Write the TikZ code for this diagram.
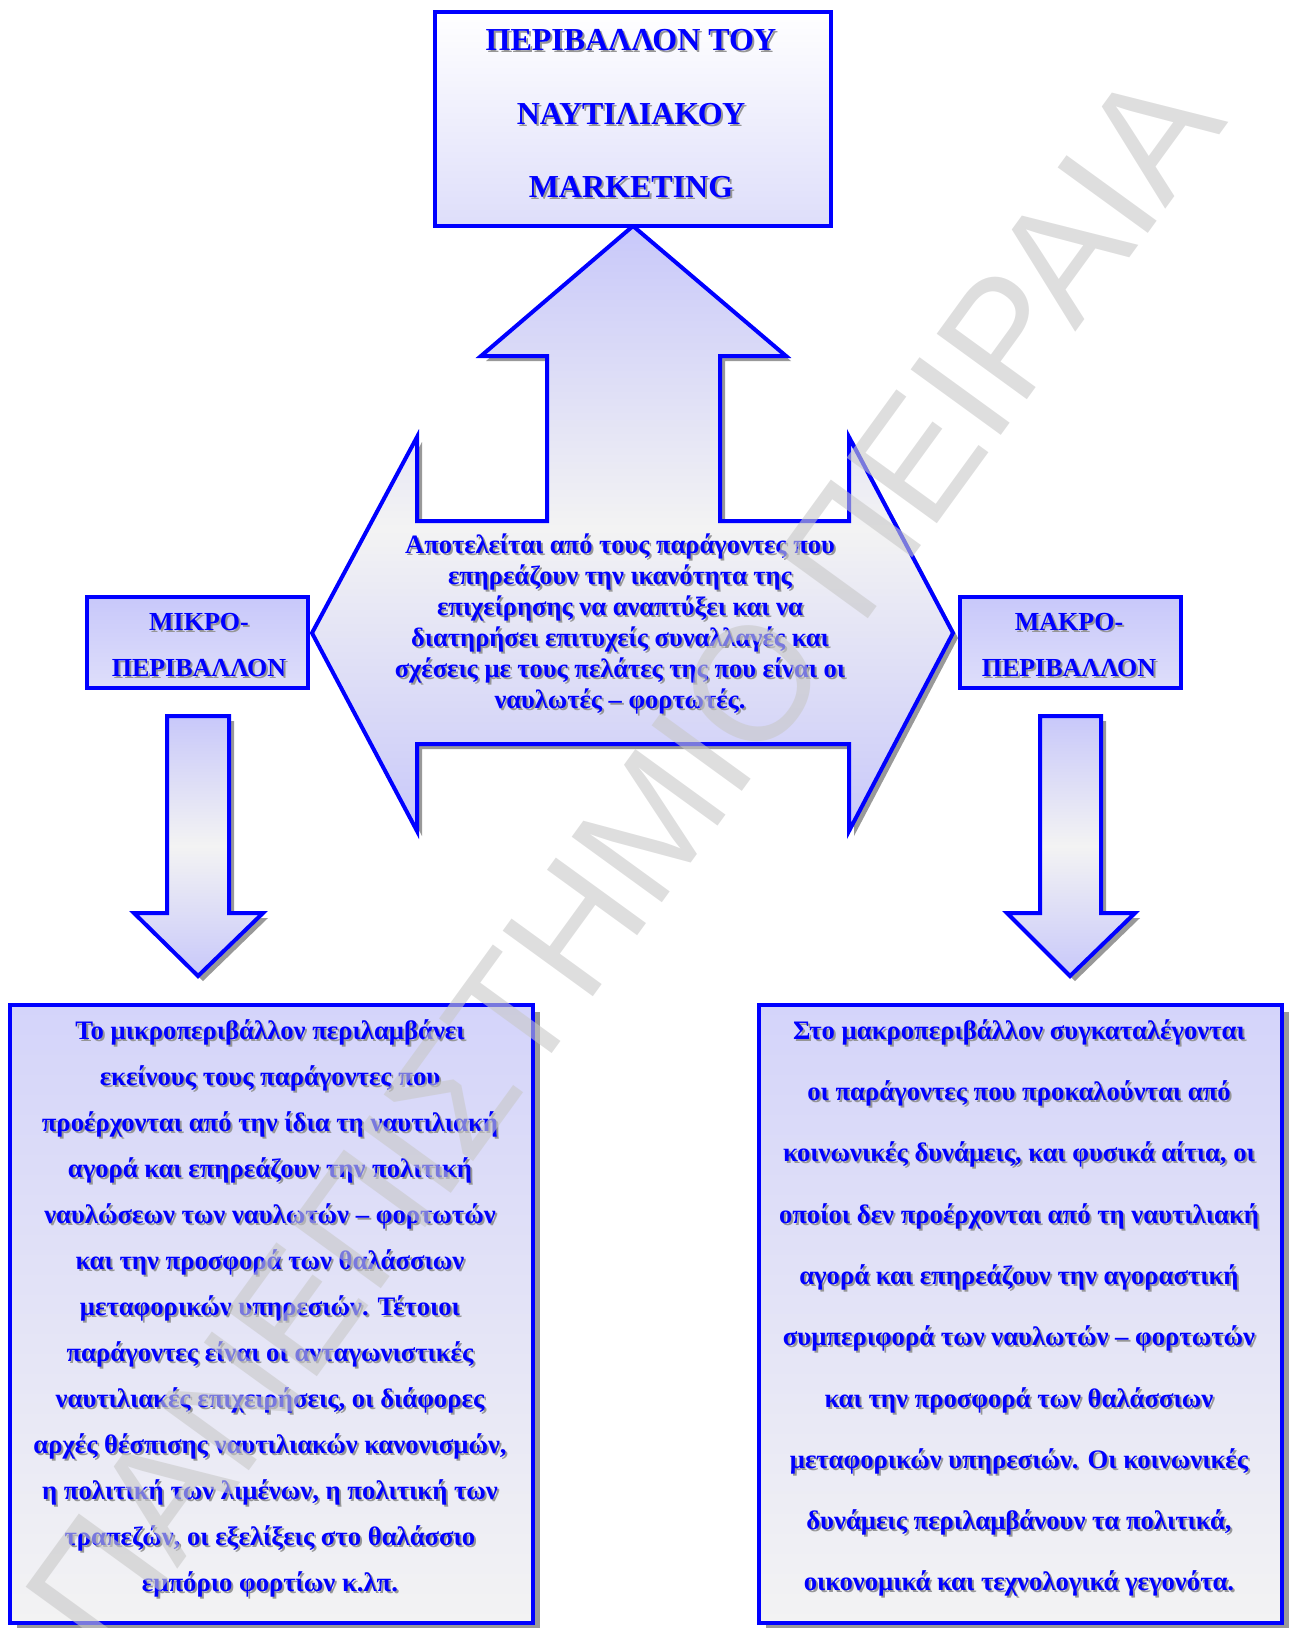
\documentclass[tikz,border=0pt]{standalone}
\usepackage{fontspec}
\setmainfont{Liberation Serif}
\newfontfamily\wmfont{Liberation Sans}
\usetikzlibrary{shadows}

\definecolor{frameblue}{RGB}{0,0,255}
\definecolor{lav}{RGB}{200,200,250}
\definecolor{lavbox}{RGB}{212,212,250}
\definecolor{lavlight}{RGB}{222,222,250}
\definecolor{palegray}{RGB}{243,243,243}
\definecolor{txtshade}{RGB}{150,150,150}
\definecolor{wmgray}{RGB}{200,200,200}

% text with a grey copy behind it
\newcommand{\shadowtext}[4]{%
  \node[#2, text=txtshade, xshift=2pt, yshift=-2pt] (#1-sh) at (#3) {#4};
  \node[#2] (#1) at (#3) {#4};
}

\begin{document}
\begin{tikzpicture}[x=1pt, y=-1pt,
    frame/.style={draw=frameblue, line width=4pt},
    blockarrow/.style={frame, line join=miter, top color=lav, bottom color=lav, middle color=palegray,
      drop shadow={shadow xshift=5pt, shadow yshift=-5pt, fill=black!40, opacity=1}},
    titlebox/.style={frame, rectangle, top color=white, bottom color=lavlight},
    sidebox/.style={frame, rectangle, top color=lav, bottom color=lavlight, minimum width=221pt, minimum height=91pt},
    textbox/.style={frame, rectangle, top color=lavbox, bottom color=palegray, minimum width=523pt, minimum height=618pt,
      drop shadow={shadow xshift=7pt, shadow yshift=-7pt, fill=black!40, opacity=1}},
    bluetxt/.style={text=frameblue, align=center, inner sep=0pt},
    titletxt/.style={bluetxt, font=\fontsize{32}{73.5}\selectfont\bfseries},
    sidetxt/.style={bluetxt, font=\fontsize{26}{46}\selectfont\bfseries},
    midtxt/.style={bluetxt, font=\fontsize{26.5}{31}\selectfont\bfseries},
    boxtxt/.style={bluetxt, font=\fontsize{26.7}{46}\selectfont\bfseries},
    widetxt/.style={bluetxt, font=\fontsize{26.7}{61.3}\selectfont\bfseries},
    watermark/.style={text=wmgray, opacity=0.6, font=\fontsize{162}{162}\selectfont\wmfont, inner sep=0pt}
  ]
  \useasboundingbox (0,0) rectangle (1291,1628);

  % arrows
  \draw[blockarrow] (633,226) -- (786,356) -- (720,356) -- (720,521) -- (849,521) -- (849,437)
    -- (953,633) -- (849,831) -- (849,744) -- (417,744) -- (417,831) -- (312,633) -- (417,437)
    -- (417,521) -- (547,521) -- (547,356) -- (481,356) -- cycle;
  \draw[blockarrow] (167,716) -- (229,716) -- (229,913) -- (263,913) -- (198,976) -- (134,913) -- (167,913) -- cycle;
  \draw[blockarrow] (1040,716) -- (1101,716) -- (1101,913) -- (1135,913) -- (1070,976) -- (1007,913) -- (1040,913) -- cycle;

  % boxes
  \node[titlebox, minimum width=396pt, minimum height=214pt] (title) at (633,119) {};
  \node[sidebox] (micro) at (197.5,642.5) {};
  \node[sidebox] (macro) at (1070,642.5) {};
  \node[textbox] (microbox) at (271.5,1314) {};
  \node[textbox] (macrobox) at (1020,1314) {};

  % texts
  \shadowtext{titletext}{titletxt}{631,114}{ΠΕΡΙΒΑΛΛΟΝ ΤΟΥ\\ ΝΑΥΤΙΛΙΑΚΟΥ\\ MARKETING}
  \shadowtext{microtitle}{sidetxt}{199,645}{ΜΙΚΡΟ-\\ ΠΕΡΙΒΑΛΛΟΝ}
  \shadowtext{macrotitle}{sidetxt}{1069,645}{ΜΑΚΡΟ-\\ ΠΕΡΙΒΑΛΛΟΝ}
  \shadowtext{midtext}{midtxt}{620,624}{Αποτελείται από τους παράγοντες που\\
    επηρεάζουν την ικανότητα της\\
    επιχείρησης να αναπτύξει και να\\
    διατηρήσει επιτυχείς συναλλαγές και\\
    σχέσεις με τους πελάτες της που είναι οι\\
    ναυλωτές – φορτωτές.}
  \shadowtext{microtext}{boxtxt}{270,1308}{Το μικροπεριβάλλον περιλαμβάνει\\
    εκείνους τους παράγοντες που\\
    προέρχονται από την ίδια τη ναυτιλιακή\\
    αγορά και επηρεάζουν την πολιτική\\
    ναυλώσεων των ναυλωτών – φορτωτών\\
    και την προσφορά των θαλάσσιων\\
    μεταφορικών υπηρεσιών. Τέτοιοι\\
    παράγοντες είναι οι ανταγωνιστικές\\
    ναυτιλιακές επιχειρήσεις, οι διάφορες\\
    αρχές θέσπισης ναυτιλιακών κανονισμών,\\
    η πολιτική των λιμένων, η πολιτική των\\
    τραπεζών, οι εξελίξεις στο θαλάσσιο\\
    εμπόριο φορτίων κ.λπ.}
  \shadowtext{macrotext}{widetxt}{1019,1308}{Στο μακροπεριβάλλον συγκαταλέγονται\\
    οι παράγοντες που προκαλούνται από\\
    κοινωνικές δυνάμεις, και φυσικά αίτια, οι\\
    οποίοι δεν προέρχονται από τη ναυτιλιακή\\
    αγορά και επηρεάζουν την αγοραστική\\
    συμπεριφορά των ναυλωτών – φορτωτών\\
    και την προσφορά των θαλάσσιων\\
    μεταφορικών υπηρεσιών. Οι κοινωνικές\\
    δυνάμεις περιλαμβάνουν τα πολιτικά,\\
    οικονομικά και τεχνολογικά γεγονότα.}

  \node[watermark, rotate=54] (stamp) at (624,860) {ΠΑΝΕΠΙΣΤΗΜΙΟ ΠΕΙΡΑΙΑ};
\end{tikzpicture}
\end{document}
